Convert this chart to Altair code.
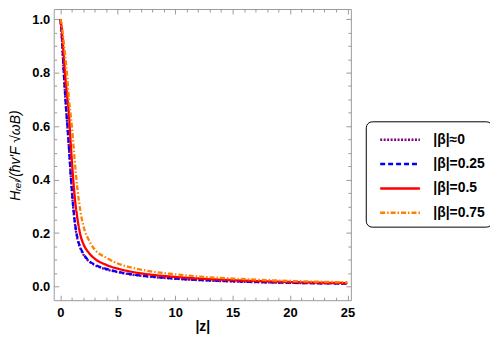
import altair as alt
import pandas as pd

# ---- data ----
z = [0, 0.1, 0.2, 0.3, 0.4, 0.5, 0.6, 0.75, 0.9, 1.0, 1.25, 1.5, 1.75, 2.0,
     2.5, 3, 4, 5, 6, 8, 10, 12.5, 15, 20, 25]
h_beta0 = [1.0, 0.95, 0.875, 0.795, 0.725, 0.66, 0.605, 0.515, 0.415, 0.355,
           0.24, 0.175, 0.142, 0.12, 0.094, 0.080, 0.064, 0.054, 0.046,
           0.036, 0.029, 0.023, 0.019, 0.014, 0.011]
h_beta025 = [1.0, 0.955, 0.88, 0.80, 0.73, 0.665, 0.61, 0.52, 0.42, 0.362,
             0.245, 0.18, 0.146, 0.123, 0.096, 0.082, 0.066, 0.055, 0.047,
             0.037, 0.030, 0.024, 0.020, 0.014, 0.011]
h_beta05 = [1.0, 0.97, 0.92, 0.86, 0.80, 0.75, 0.71, 0.64, 0.535, 0.47,
            0.335, 0.25, 0.192, 0.16, 0.125, 0.104, 0.081, 0.067, 0.057,
            0.044, 0.036, 0.029, 0.024, 0.017, 0.013]
h_beta075 = [1.0, 0.985, 0.95, 0.91, 0.87, 0.83, 0.78, 0.70, 0.64, 0.60,
             0.47, 0.36, 0.28, 0.228, 0.172, 0.138, 0.108, 0.086, 0.073,
             0.056, 0.046, 0.036, 0.030, 0.021, 0.016]

labels = ["|β|≈0", "|β|=0.25", "|β|=0.5", "|β|=0.75"]
series_values = [h_beta0, h_beta025, h_beta05, h_beta075]
colors = ["#800080", "#0000ff", "#ff0000", "#ff8000"]
dashes = [[2, 1.5], [5, 3], [1, 0], [5, 2, 1.5, 2]]

x_major = [0, 5, 10, 15, 20, 25]
x_minor = [v for v in range(1, 26) if v % 5 != 0]
y_major = [0.0, 0.2, 0.4, 0.6, 0.8, 1.0]
y_minor = [round(0.05 * i, 2) for i in range(1, 21) if i % 4 != 0]

rows = []
for lbl, vals in zip(labels, series_values):
    for zz, hh in zip(z, vals):
        rows.append({"z": zz, "h": hh, "series": lbl})
df = pd.DataFrame(rows)

# ---- layout ----
W, H = 299, 293
FONT = "Liberation Sans"
GRAY = "#9a9a9a"

x_scale = alt.Scale(domain=[-0.58, 25.3], nice=False, zero=False)
y_scale = alt.Scale(domain=[-0.051, 1.038], nice=False, zero=False)

base = alt.Chart(df)

leg = alt.Legend(orient="none", legendX=314, legendY=113, title=None,
                 strokeColor="black", fillColor="white", cornerRadius=6,
                 padding=7, symbolType="M-2,0L2,0", symbolSize=400,
                 symbolStrokeWidth=2.5, symbolOffset=16, labelOffset=22,
                 labelFontSize=14, labelFontWeight="bold", labelFont=FONT,
                 labelColor="black", rowPadding=5.5)

x_main = alt.X("z:Q", scale=x_scale,
               axis=alt.Axis(orient="bottom", values=x_major, format="d",
                             labelFont=FONT, labelFontSize=13,
                             labelFontWeight="bold", labelColor="black",
                             labelPadding=6, ticks=False, tickSize=0,
                             domain=False, grid=False, title="|z|",
                             titleFont=FONT, titleFontSize=14,
                             titleFontWeight="bold", titleColor="black",
                             titleY=26, titleBaseline="middle"))
y_main = alt.Y("h:Q", scale=y_scale,
               axis=alt.Axis(orient="left", values=y_major, format=".1f",
                             labelFont=FONT, labelFontSize=13,
                             labelFontWeight="bold", labelColor="black",
                             labelPadding=4, ticks=False, tickSize=0,
                             domain=False, grid=False,
                             title="Hᵣₑₗ/(ħv′F √ωB)",
                             titleFont=FONT, titleFontSize=14,
                             titleFontStyle="italic", titleFontWeight="normal",
                             titleColor="black", titleAngle=270,
                             titleX=-38, titleY=147, titleAlign="center",
                             titleBaseline="middle"))


def series_layer(lbl):
    return base.transform_filter(alt.datum.series == lbl).mark_line(
        strokeWidth=2.3, interpolate="monotone").encode(
        x=x_main, y=y_main,
        color=alt.Color("series:N", scale=alt.Scale(domain=labels, range=colors),
                        legend=leg),
        strokeDash=alt.StrokeDash("series:N",
                                  scale=alt.Scale(domain=labels, range=dashes),
                                  legend=leg),
    )


lines = alt.layer(*[series_layer(l) for l in labels])


def tick_layer(xo, yo, xv, yv, size):
    return base.mark_point(opacity=0).encode(
        x=alt.X("z:Q", scale=x_scale,
                axis=alt.Axis(orient=xo, offset=-H, values=xv, tickSize=size,
                              tickColor=GRAY, tickWidth=1, labels=False,
                              domain=False, grid=False, title=None)),
        y=alt.Y("h:Q", scale=y_scale,
                axis=alt.Axis(orient=yo, offset=-W, values=yv, tickSize=size,
                              tickColor=GRAY, tickWidth=1, labels=False,
                              domain=False, grid=False, title=None)),
    )


t1 = tick_layer("top", "right", x_major, y_major, 5)
t2 = tick_layer("top", "right", x_minor, y_minor, 3)
t3 = tick_layer("bottom", "left", x_major, y_major, 5)
t4 = tick_layer("bottom", "left", x_minor, y_minor, 3)

chart = alt.layer(lines, t1, t2, t3, t4).resolve_axis(
    x="independent", y="independent"
).properties(
    width=W, height=H,
    padding={"left": 46, "top": 0, "right": 140, "bottom": 34},
    autosize=alt.AutoSizeParams(type="none"),
).configure_view(stroke=GRAY, strokeWidth=1)

chart.save("out.html", embed_options={"renderer": "svg", "actions": False})
